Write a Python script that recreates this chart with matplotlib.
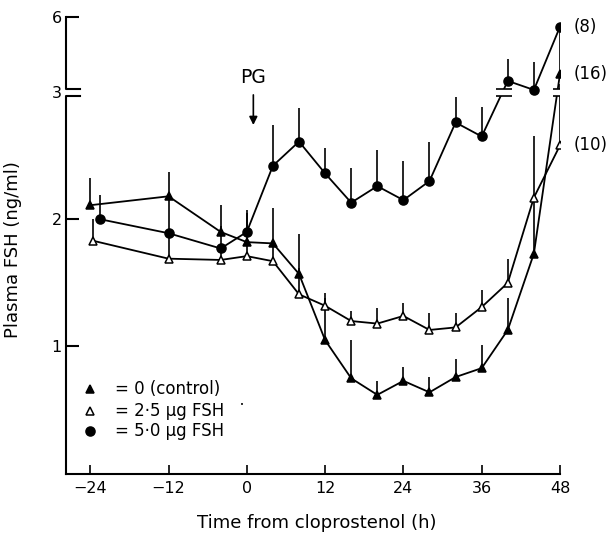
import numpy as np
import matplotlib.pyplot as plt

plt.rcParams['font.family'] = ['DejaVu Sans']

# tiempos (h desde cloprostenol)
ctrl_h = [-24, -12, -4, 0, 4, 8, 12, 16, 20, 24, 28, 32, 36, 40, 44, 48]
open_h = [-23.5, -12, -4, 0, 4, 8, 12, 16, 20, 24, 28, 32, 36, 40, 44, 48]
five_h = [-22.5, -12, -4, 0, 4, 8, 12, 16, 20, 24, 28, 32, 36, 40, 44, 48]

# 0 (control)
ctrl_val = [2.11, 2.18, 1.90, 1.82, 1.81, 1.57, 1.05, 0.75, 0.62, 0.73, 0.64, 0.76, 0.83, 1.13, 1.73, 3.72]
ctrl_top = [2.32, 2.37, 2.11, 2.05, 2.09, 1.88, 1.38, 1.05, 0.73, 0.84, 0.76, 0.90, 1.01, 1.38, 2.19, 5.5]
# 2.5 ug FSH
open_val = [1.83, 1.69, 1.68, 1.71, 1.67, 1.41, 1.32, 1.20, 1.18, 1.24, 1.13, 1.15, 1.31, 1.50, 2.17, 2.58]
open_top = [2.00, 1.89, 1.80, 1.85, 1.82, 1.62, 1.42, 1.28, 1.30, 1.34, 1.26, 1.26, 1.44, 1.69, 2.65, 3.3]
# 5.0 ug FSH
five_val = [2.00, 1.89, 1.77, 1.90, 2.42, 2.61, 2.36, 2.13, 2.26, 2.15, 2.30, 2.76, 2.65, 3.44, 3.08, 5.6]
five_top = [2.19, 2.18, 1.95, 2.07, 2.74, 2.87, 2.56, 2.40, 2.54, 2.46, 2.61, 2.96, 2.88, 4.32, 4.2, 5.6]

n_labels = ['(8)', '(16)', '(10)']
x_ticks = [-24, -12, 0, 12, 24, 36, 48]
y_ticks = [1, 2, 3, 6]

# eje y partido en 3: por encima se comprime
r = 0.197


def forward(v):
    v = np.asarray(v, dtype=float)
    return np.where(v <= 3, v, 3 + (v - 3) * r)


def inverse(s):
    s = np.asarray(s, dtype=float)
    return np.where(s <= 3, s, 3 + (s - 3) / r)


fig = plt.figure(figsize=(6.12, 5.39), dpi=100)
ax = fig.add_axes([0.108, 0.121, 0.807, 0.848])
ax.set_yscale('function', functions=(forward, inverse))
ax.set_xlim(-27.7, 48)
ax.set_ylim(0, 6)

lw = 1.3
for h, val, top, mk, fc in [(ctrl_h, ctrl_val, ctrl_top, '^', 'k'),
                            (open_h, open_val, open_top, '^', 'white'),
                            (five_h, five_val, five_top, 'o', 'k')]:
    val = np.array(val)
    top = np.array(top)
    ax.errorbar(h, val, yerr=[np.zeros_like(val), top - val], fmt='none',
                ecolor='k', elinewidth=1.2, capsize=0, zorder=2)
    ax.plot(h, val, color='k', lw=lw, marker=mk, mfc=fc, mec='k',
            ms=6.5 if mk == 'o' else 6, mew=1.1, zorder=3)


# marcas de corte sobre las curvas
def corte(x0, x1):
    ax.fill_between([x0, x1], 2.965, 3.12, color='white', zorder=4, lw=0)
    ax.hlines([2.965, 3.12], x0, x1, color='k', lw=1.2, zorder=5)


corte(38.2, 40.6)
corte(46.9, 49.1)

# eje y dibujado a mano (con el corte)
ax.spines['left'].set_visible(False)
ax.spines['top'].set_visible(False)
ax.spines['right'].set_visible(False)
ax.spines['bottom'].set_linewidth(1.5)
yt = ax.get_yaxis_transform()
ax.plot([0, 0, 0.028], [0, 2.965, 2.965], color='k', lw=1.5, transform=yt, clip_on=False)
ax.plot([0.028, 0, 0], [3.12, 3.12, 6], color='k', lw=1.5, transform=yt, clip_on=False)

ax.set_xticks(x_ticks)
ax.set_yticks(y_ticks)
ax.set_yticklabels([str(t) for t in y_ticks])
ax.tick_params(axis='x', direction='in', length=6.5, width=1.2, pad=5, labelsize=11.5)
ax.tick_params(axis='y', direction='in', length=9.5, width=1.5, pad=3, labelsize=11.5)
ax.yaxis.get_major_ticks()[2].tick1line.set_visible(False)
ax.minorticks_off()

ax.set_ylabel('Plasma FSH (ng/ml)', fontsize=13)
ax.yaxis.set_label_coords(-0.089, 0.49)
ax.text(0.508, -0.107, 'Time from cloprostenol (h)', fontsize=13,
        ha='center', va='center', transform=ax.transAxes)

# PG
ax.annotate('', xy=(1, 0.757), xytext=(1, 0.835),
            xycoords=('data', 'axes fraction'),
            arrowprops=dict(arrowstyle='-|>', color='k', lw=1.2, mutation_scale=12))
ax.text(1, 0.868, 'PG', fontsize=13.5, ha='center', va='center',
        transform=ax.get_xaxis_transform())

# numero de animales
for lab, v in zip(n_labels, [five_val[-1], ctrl_val[-1], open_val[-1]]):
    ax.annotate(lab, xy=(48, v), xytext=(10, 0), textcoords='offset points',
                ha='left', va='center', fontsize=12, annotation_clip=False)

# leyenda
leg_y = [0.186, 0.138, 0.094]
leg_txt = ['= 0 (control)', '= 2·5 µg FSH', '= 5·0 µg FSH']
leg_mk = [('^', 'k'), ('^', 'white'), ('o', 'k')]
for yy, txt, (mk, fc) in zip(leg_y, leg_txt, leg_mk):
    ax.plot([0.049], [yy], marker=mk, mfc=fc, mec='k', ms=6.5 if mk == 'o' else 6, mew=1.1,
            transform=ax.transAxes, clip_on=False)
    ax.text(0.099, yy, txt, fontsize=12, ha='left', va='center', transform=ax.transAxes)
ax.text(0.352, leg_y[1] + 0.012, '•', fontsize=5, ha='left', va='center', transform=ax.transAxes)

fig.savefig('out.png', dpi=100)
